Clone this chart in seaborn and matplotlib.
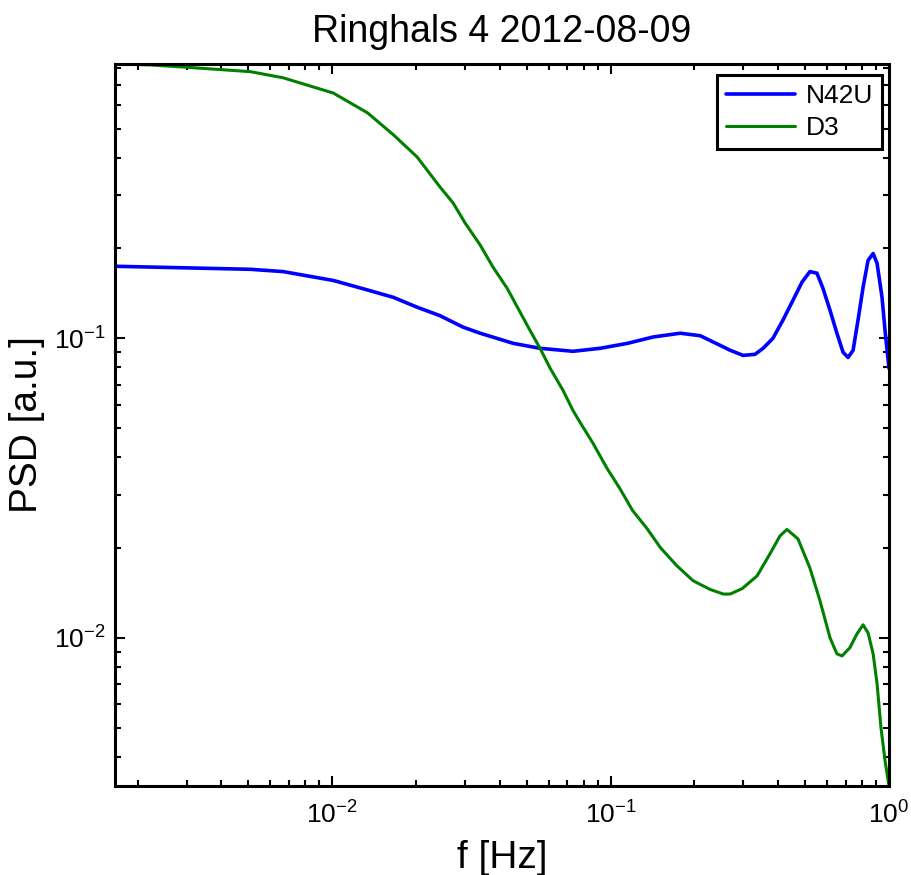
import matplotlib
matplotlib.use('Agg')
import numpy as np
import pandas as pd
import seaborn as sns
import matplotlib.pyplot as plt
from matplotlib.ticker import LogLocator, NullFormatter

# values (frequency in Hz, PSD in a.u.)
freq_n42u = [0.00166, 0.00508, 0.00667, 0.0101, 0.0134, 0.0166, 0.0202, 0.0244,
             0.0295, 0.0340, 0.0447, 0.0558, 0.0733, 0.0917, 0.115, 0.142,
             0.178, 0.210, 0.269, 0.299, 0.330, 0.353, 0.383, 0.416, 0.452,
             0.487, 0.520, 0.551, 0.579, 0.614, 0.650, 0.684, 0.713, 0.743,
             0.774, 0.807, 0.841, 0.877, 0.906, 0.944, 0.968, 1.0]
psd_n42u = [0.174, 0.170, 0.167, 0.156, 0.145, 0.137, 0.127, 0.119,
            0.109, 0.104, 0.0962, 0.0926, 0.0905, 0.0926, 0.0962, 0.101,
            0.104, 0.102, 0.0912, 0.0877, 0.0884, 0.0926, 0.100, 0.115, 0.134,
            0.154, 0.167, 0.165, 0.147, 0.124, 0.104, 0.0898, 0.0863, 0.0912,
            0.115, 0.148, 0.182, 0.192, 0.178, 0.137, 0.106, 0.0794]

freq_d3 = [0.00166, 0.00222, 0.00292, 0.00508, 0.00667, 0.0101, 0.0134, 0.0166,
           0.0202, 0.0244, 0.0272, 0.0300, 0.0340, 0.0378, 0.0425, 0.0465,
           0.0506, 0.0558, 0.0607, 0.0675, 0.0733, 0.0777, 0.0865, 0.0971,
           0.108, 0.120, 0.135, 0.151, 0.173, 0.198, 0.228, 0.254, 0.269,
           0.297, 0.336, 0.374, 0.406, 0.430, 0.471, 0.520, 0.565, 0.614,
           0.650, 0.678, 0.724, 0.767, 0.807, 0.841, 0.877, 0.906, 0.936,
           0.968, 1.0]
psd_d3 = [0.824, 0.818, 0.805, 0.777, 0.741, 0.659, 0.566, 0.478,
          0.403, 0.320, 0.283, 0.243, 0.205, 0.173, 0.147, 0.126,
          0.109, 0.0926, 0.0794, 0.0670, 0.0574, 0.0524, 0.0446, 0.0368,
          0.0315, 0.0266, 0.0232, 0.0200, 0.0174, 0.0155, 0.0145, 0.0140, 0.0140,
          0.0146, 0.0161, 0.0191, 0.0219, 0.0230, 0.0214, 0.0171, 0.0133, 0.0100,
          0.00884, 0.00870, 0.00927, 0.0103, 0.01105, 0.01039, 0.00884, 0.00702,
          0.00500, 0.00388, 0.00320]

sns.set_style('white')
plt.rcParams['font.family'] = ['Liberation Sans', 'DejaVu Sans']
plt.rcParams['mathtext.fontset'] = 'custom'
plt.rcParams['mathtext.rm'] = 'Liberation Sans'
plt.rcParams['mathtext.it'] = 'Liberation Sans:italic'
plt.rcParams['text.color'] = 'black'
plt.rcParams['axes.labelcolor'] = 'black'

fig = plt.figure(figsize=(9.11, 8.75), dpi=100)
ax = fig.add_axes([115 / 911, 1 - 786 / 875, 774 / 911, 722 / 875])

sns.lineplot(x=freq_n42u, y=psd_n42u, color='#0000ff', linewidth=2.6,
             label='N42U', sort=False, estimator=None, ax=ax)
sns.lineplot(x=freq_d3, y=psd_d3, color='#008000', linewidth=2.2,
             label='D3', sort=False, estimator=None, ax=ax)

ax.set_xscale('log')
ax.set_yscale('log')
ax.set_xlim(min(freq_d3), max(freq_d3))
ax.set_ylim(min(psd_d3), max(psd_d3))

for axis in (ax.xaxis, ax.yaxis):
    axis.set_major_locator(LogLocator(base=10))
    axis.set_minor_locator(LogLocator(base=10, subs=np.arange(2, 10), numticks=20))
    axis.set_minor_formatter(NullFormatter())

ax.tick_params(which='both', direction='in', bottom=True, left=True,
               top=True, right=True, width=1.5, colors='black', labelsize=19)
ax.tick_params(which='major', length=7)
ax.tick_params(which='minor', length=4)
ax.tick_params(axis='x', pad=11)
ax.tick_params(axis='y', pad=7)
for spine in ax.spines.values():
    spine.set_linewidth(2.2)
    spine.set_color('black')

ax.set_title('Ringhals 4 2012-08-09', fontsize=27, pad=16)
ax.set_xlabel('f [Hz]', fontsize=28, labelpad=8)
ax.set_ylabel('PSD [a.u.]', fontsize=28, labelpad=6)

leg = ax.legend(loc='upper right', bbox_to_anchor=(1 - 7 / 774, 1 - 11 / 722),
                fontsize=19, frameon=True, fancybox=False,
                handlelength=2.6, handletextpad=0.4, labelspacing=0.3,
                borderaxespad=0, borderpad=0.35)
leg.get_frame().set_edgecolor('black')
leg.get_frame().set_linewidth(2.2)
leg.get_frame().set_alpha(1)

fig.savefig('out.png', dpi=100)
